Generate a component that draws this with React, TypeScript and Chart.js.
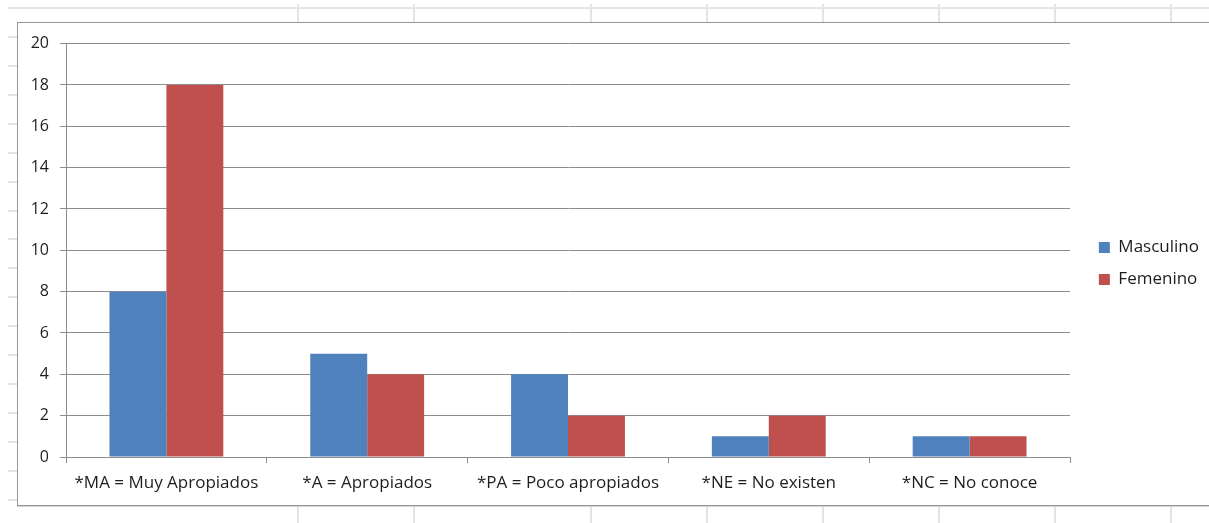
import React, { useEffect, useRef } from "react";
import { Chart, registerables } from "chart.js";

Chart.register(...registerables);

// ---- data ----
const categories = [
  "*MA = Muy Apropiados",
  "*A = Apropiados",
  "*PA = Poco apropiados",
  "*NE = No existen",
  "*NC = No conoce",
];
const seriesNames = ["Masculino", "Femenino"];
const masculino = [8, 5, 4, 1, 1];
const femenino = [18, 4, 2, 2, 1];
const yMin = 0;
const yMax = 20;
const yStep = 2;

// ---- styling / layout (not data) ----
const BLUE = "#4F81BD";
const RED = "#C0504D";
const AXIS_GRAY = "#8c8c8c";
const TEXT = "#1e1e1e";
const FONT_FAMILY = "'Open Sans', 'Noto Sans', sans-serif";

const SHEET_COLS = [298, 414, 591, 707, 823, 939, 1055, 1171];
const SHEET_ROW_START = 8;
const SHEET_ROW_STEP = 28.93;
const SHEET_ROW_COUNT = 18;

const CANVAS_W = 1191;
const CANVAS_H = 481;
const PLOT_RIGHT = 1052;

export default function App() {
  const canvasRef = useRef<HTMLCanvasElement | null>(null);

  useEffect(() => {
    const canvas = canvasRef.current;
    if (!canvas) return;
    const labelFont = { family: FONT_FAMILY, size: 17 };
    const yFont = { family: FONT_FAMILY, size: 16 };
    const chart = new Chart(canvas, {
      type: "bar",
      data: {
        labels: categories,
        datasets: [
          {
            label: seriesNames[0],
            data: masculino,
            backgroundColor: BLUE,
            borderWidth: 0,
            categoryPercentage: 0.567,
            barPercentage: 1,
          },
          {
            label: seriesNames[1],
            data: femenino,
            backgroundColor: RED,
            borderWidth: 0,
            categoryPercentage: 0.567,
            barPercentage: 1,
          },
        ],
      },
      options: {
        animation: false,
        responsive: false,
        maintainAspectRatio: false,
        layout: { padding: 0 },
        plugins: {
          title: {
            display: true,
            text: "",
            fullSize: false,
            padding: { top: 19, bottom: 0 },
            font: { size: 1 },
          },
          legend: {
            position: "right",
            align: "center",
            labels: {
              boxWidth: 11,
              boxHeight: 11,
              padding: 15,
              font: labelFont,
              color: TEXT,
            },
          },
          tooltip: { enabled: false },
        },
        scales: {
          x: {
            grid: {
              display: true,
              drawOnChartArea: false,
              drawTicks: true,
              tickLength: 6,
              color: AXIS_GRAY,
              offset: true,
            },
            border: { color: AXIS_GRAY },
            ticks: {
              padding: 10,
              font: labelFont,
              color: TEXT,
              maxRotation: 0,
              autoSkip: false,
            },
            afterFit: (s: any) => {
              s.height = 47;
            },
          },
          y: {
            min: yMin,
            max: yMax,
            ticks: { stepSize: yStep, padding: 11, font: yFont, color: TEXT },
            grid: { color: AXIS_GRAY, tickLength: 6, drawTicks: true },
            border: { color: AXIS_GRAY },
            afterFit: (s: any) => {
              s.width = 48;
            },
          },
          spacer: {
            type: "linear",
            position: "right",
            display: true,
            ticks: { display: false },
            grid: { display: false },
            border: { display: false },
            afterFit: (s: any) => {
              const lw = s.chart.legend ? s.chart.legend.width : 0;
              s.width = Math.max(0, CANVAS_W - PLOT_RIGHT - lw);
            },
          },
        },
      },
    } as any);
    return () => chart.destroy();
  }, []);

  const rows = Array.from({ length: SHEET_ROW_COUNT }, (_, k) =>
    Math.round(SHEET_ROW_START + SHEET_ROW_STEP * k)
  );

  return (
    <div
      style={{
        position: "absolute",
        left: 0,
        top: 0,
        width: 1209,
        height: 523,
        overflow: "hidden",
        background: "#ffffff",
      }}
    >
      {/* spreadsheet background grid */}
      <div
        style={{
          position: "absolute",
          left: 8,
          top: 7,
          width: 1201,
          height: 2,
          background: "#e4e4e4",
        }}
      />
      {rows.slice(1).map((y) => (
        <div
          key={"r" + y}
          style={{
            position: "absolute",
            left: 8,
            top: y - 1,
            width: 10,
            height: 2,
            background: "#e4e4e4",
          }}
        />
      ))}
      {SHEET_COLS.map((x) => (
        <div
          key={"ct" + x}
          style={{
            position: "absolute",
            left: x - 1,
            top: 4,
            width: 2,
            height: 19,
            background: "#e4e4e4",
          }}
        />
      ))}
      {SHEET_COLS.map((x) => (
        <div
          key={"cb" + x}
          style={{
            position: "absolute",
            left: x - 1,
            top: 505,
            width: 2,
            height: 18,
            background: "#e4e4e4",
          }}
        />
      ))}
      {/* chart frame */}
      <div
        style={{
          position: "absolute",
          left: 17,
          top: 22,
          width: 1209,
          height: 484,
          boxSizing: "border-box",
          border: "1px solid #979797",
          boxShadow: "0 1px 0 #d4d4d4",
          background: "#ffffff",
        }}
      >
        <canvas
          ref={canvasRef}
          width={CANVAS_W}
          height={CANVAS_H}
          style={{ display: "block", width: CANVAS_W, height: CANVAS_H }}
        />
      </div>
    </div>
  );
}
